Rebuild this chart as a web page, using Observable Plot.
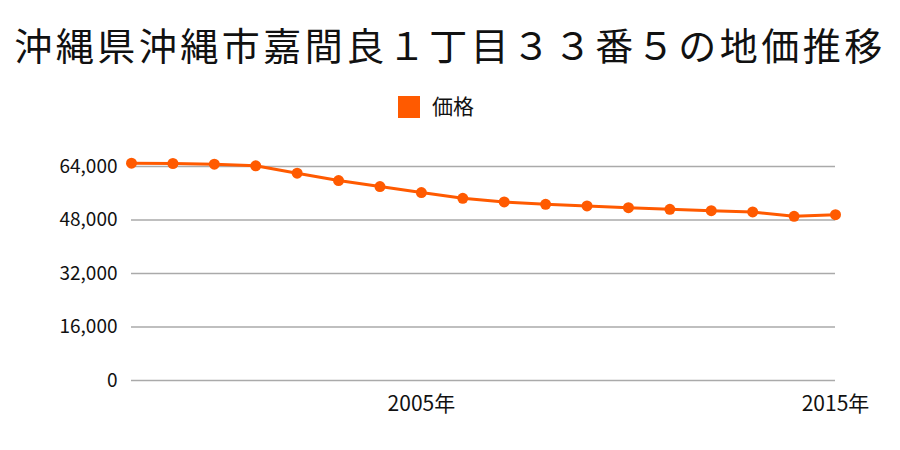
<!DOCTYPE html>
<html><head><meta charset="utf-8">
<script src="https://cdn.jsdelivr.net/npm/d3@7"></script>
<script src="https://cdn.jsdelivr.net/npm/@observablehq/plot@0.6"></script>
<style>
body{margin:0;background:#fff;font-family:"Noto Sans CJK JP","Noto Sans",sans-serif;}
#wrap{width:900px;height:450px;position:relative;overflow:hidden;}
#title{position:absolute;left:0;top:16px;width:900px;text-align:center;font-size:38px;line-height:56px;color:#111;letter-spacing:3.5px;white-space:nowrap;}
#legend{position:absolute;left:398px;top:88px;font-size:21px;line-height:34px;color:#111;white-space:nowrap;}
#legend span.sw{display:inline-block;width:22px;height:22px;background:#ff5a00;vertical-align:-4px;margin-right:12px;}
#chart{position:absolute;left:0;top:135px;}
</style></head><body>
<div id="wrap">
<div id="title">沖縄県沖縄市嘉間良１丁目３３番５の地価推移</div>
<div id="legend"><span class="sw"></span>価格</div>
<div id="chart"></div>
</div>
<script>
const years = [1998,1999,2000,2001,2002,2003,2004,2005,2006,2007,2008,2009,2010,2011,2012,2013,2014,2015];
const prices = [65000,64900,64700,64200,62000,59800,58000,56200,54500,53400,52700,52200,51700,51200,50800,50400,49100,49600];
const yTicks = [0,16000,32000,48000,64000];
const xTicks = [2005,2015];
const seriesName = "価格";
const data = years.map((y,i)=>({year:y, price:prices[i], series:seriesName}));
const color = "#ff5a00";
const chart = Plot.plot({
  width: 900,
  height: 315,
  marginLeft: 131,
  marginRight: 65,
  marginTop: 31,
  marginBottom: 70,
  style:{fontFamily:'"Noto Sans CJK JP","Noto Sans",sans-serif', fontSize:"19px", color:"#111", background:"#fff"},
  x:{domain:[1998,2015], ticks:xTicks, tickFormat:d=>d+"年", tickSize:0, tickPadding:16, label:null},
  y:{domain:[0,64000], ticks:yTicks, tickFormat:d=>d3.format(",")(d), tickSize:0, tickPadding:14, label:null},
  marks:[
    Plot.gridY(yTicks,{stroke:"#aaa", strokeOpacity:1, strokeWidth:1.5}),
    Plot.line(data,{x:"year", y:"price", stroke:color, strokeWidth:3}),
    Plot.dot(data,{x:"year", y:"price", fill:color, r:5.5})
  ]
});
chart.querySelectorAll('g[aria-label="x-axis tick label"] text').forEach(t=>t.style.fontSize="21px");
document.getElementById("chart").appendChild(chart);
</script>
</body></html>
